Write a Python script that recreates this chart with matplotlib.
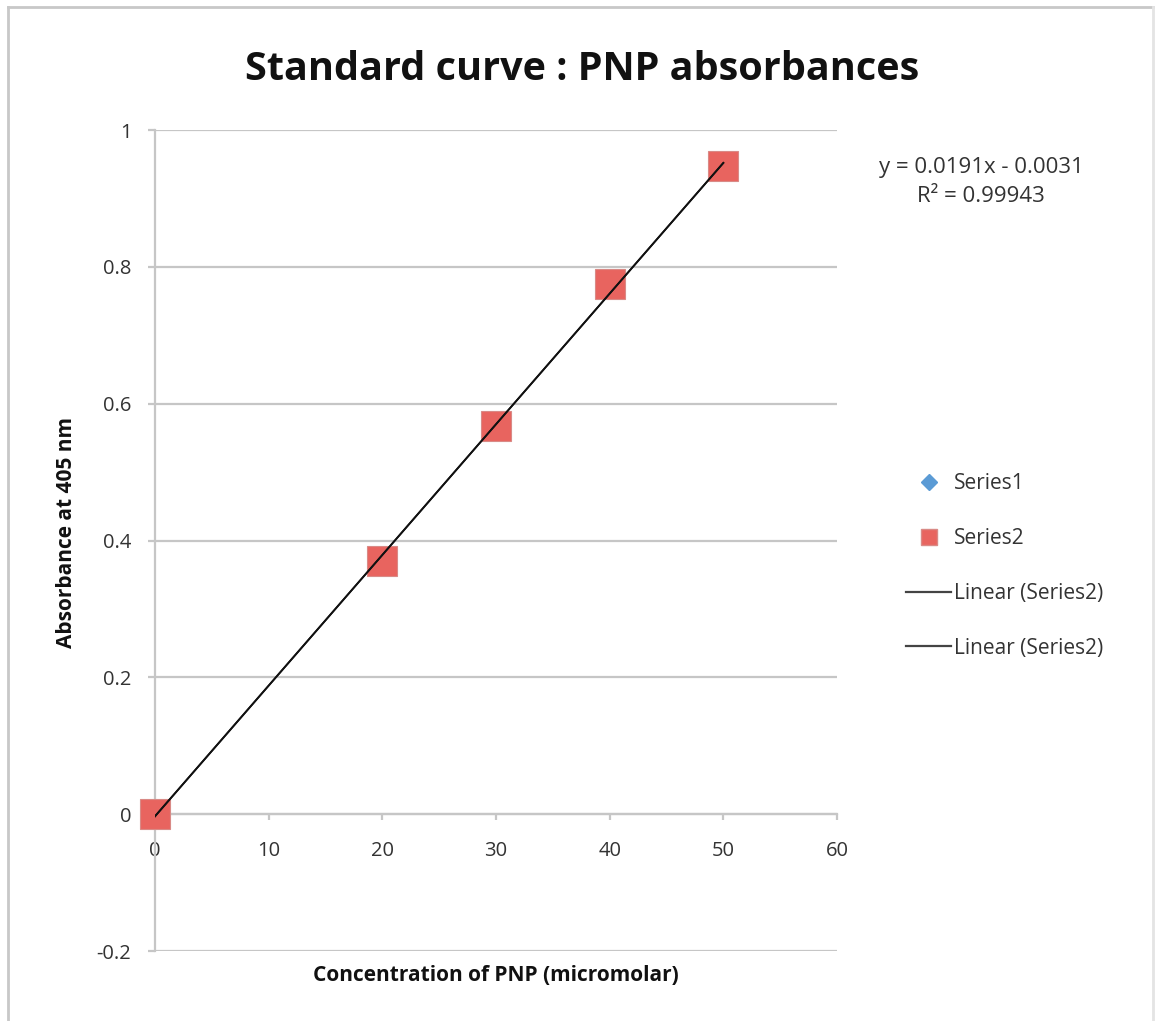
import matplotlib
matplotlib.use("Agg")
import matplotlib.pyplot as plt
from matplotlib.lines import Line2D
import numpy as np

# ---- data ----
concentration = [0, 20, 30, 40, 50]
absorbance = [0.0, 0.370, 0.567, 0.775, 0.947]
series1_x = []
series1_y = []
slope = 0.0191
intercept = -0.0031
r_squared = 0.99943
x_ticks = [0, 10, 20, 30, 40, 50, 60]
y_ticks = [-0.2, 0, 0.2, 0.4, 0.6, 0.8, 1.0]
y_tick_labels = ["-0.2", "0", "0.2", "0.4", "0.6", "0.8", "1"]
title = "Standard curve : PNP absorbances"
xlabel = "Concentration of PNP (micromolar)"
ylabel = "Absorbance at 405 nm"

plt.rcParams['font.family'] = ['Open Sans', 'DejaVu Sans']

W, H = 1156, 1021
fig = plt.figure(figsize=(W / 100, H / 100), dpi=100)
ax = fig.add_axes([155 / W, 1 - 951 / H, (837 - 155) / W, (951 - 130) / H])

grid_c = '#c6c6c6'
txt_c = '#333333'

ax.set_xlim(0, 60)
ax.set_ylim(-0.2, 1.0)
ax.set_yticks(y_ticks)
ax.set_yticklabels(y_tick_labels)
ax.set_xticks(x_ticks)
ax.set_xticklabels([str(v) for v in x_ticks])
ax.yaxis.grid(True, color=grid_c, linewidth=1.6, zorder=0)
ax.set_axisbelow(True)

for s in ['top', 'right']:
    ax.spines[s].set_visible(False)
ax.spines['left'].set_color(grid_c)
ax.spines['left'].set_linewidth(1.6)
ax.spines['bottom'].set_position(('data', 0))
ax.spines['bottom'].set_color(grid_c)
ax.spines['bottom'].set_linewidth(1.6)
ax.tick_params(axis='y', length=5, width=1.6, color=grid_c, pad=12,
               labelsize=14.5, labelcolor=txt_c)
ax.tick_params(axis='x', length=4, width=1.6, color=grid_c, pad=15,
               labelsize=14.5, labelcolor=txt_c)
ax.spines['bottom'].set_bounds(0, 60)

# series
s1, = ax.plot(series1_x, series1_y, linestyle='none', marker='D',
              markersize=16, color='#5b9bd5', label='Series1')
s2, = ax.plot(concentration, absorbance, linestyle='none', marker='s',
              markersize=21, markerfacecolor='#e8645f', markeredgecolor='#d98a86',
              markeredgewidth=0.8, label='Series2', zorder=3, clip_on=False)

xfit = np.array([min(concentration), max(concentration)])
yfit = slope * xfit + intercept
l1, = ax.plot(xfit, yfit, color='#111111', linewidth=1.3, zorder=4,
              label='Linear (Series2)')
l2, = ax.plot(xfit, yfit, color='#111111', linewidth=1.3, zorder=4,
              label='Linear (Series2)')

# texts
fig.text(582 / W, 1 - 70 / H, title, ha='center', va='center', fontsize=28.5,
         fontweight='bold', color='#111111')
fig.text(496 / W, 1 - 975 / H, xlabel, ha='center', va='center', fontsize=15,
         fontweight='bold', color='#111111')
fig.text(66 / W, 1 - 532 / H, ylabel, ha='center', va='center', fontsize=15,
         fontweight='bold', color='#111111', rotation=90)
fig.text(981 / W, 1 - 168 / H, "y = 0.0191x - 0.0031", ha='center', va='center',
         fontsize=16, color=txt_c)
fig.text(981 / W, 1 - 197 / H, "R² = 0.99943", ha='center', va='center',
         fontsize=16, color=txt_c)

handles = [
    Line2D([], [], linestyle='none', marker='D', markersize=8, color='#5b9bd5'),
    Line2D([], [], linestyle='none', marker='s', markersize=11,
           markerfacecolor='#e8645f', markeredgecolor='#d98a86'),
    Line2D([], [], color='#444444', linewidth=1.6),
    Line2D([], [], color='#444444', linewidth=1.6),
]
labels = ['Series1', 'Series2', 'Linear (Series2)', 'Linear (Series2)']
fig.legend(handles, labels, loc='center left',
           bbox_to_anchor=(896 / W, 1 - 566 / H), frameon=False, fontsize=15,
           handlelength=2.15, handletextpad=0.12, labelspacing=1.62,
           labelcolor=txt_c, borderpad=0)

# outer border
bc = '#c8c8c8'
fig.add_artist(Line2D([8 / W, 8 / W], [0, 1 - 7 / H], color=bc, lw=2))
fig.add_artist(Line2D([8 / W, 1153 / W], [1 - 7 / H, 1 - 7 / H], color=bc, lw=2))
fig.add_artist(Line2D([1153 / W, 1153 / W], [0, 1 - 7 / H], color='#e4e4e4', lw=2))

fig.savefig('out.png', dpi=100)
